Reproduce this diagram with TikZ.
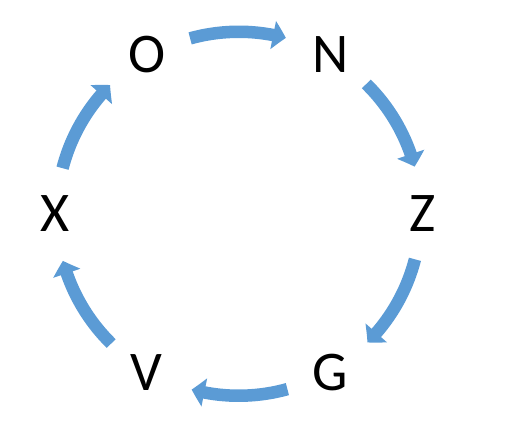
\documentclass[tikz,border=0pt]{standalone}
\usepackage{fontspec}
\setmainfont{Carlito}
\usetikzlibrary{arrows.meta,bending}
\definecolor{arrowblue}{RGB}{91,155,213}
\tikzset{
  letter/.style={font=\fontsize{56}{60}\selectfont, text=black, inner sep=0pt, anchor=center},
  cyclearrow/.style={draw=arrowblue, line width=12.5pt, line cap=butt,
    -{Triangle[width=28pt,length=13pt,bend]}}
}
\begin{document}
\begin{tikzpicture}[x=1pt,y=1pt]
\useasboundingbox (0,0) rectangle (521,431);
\begin{scope}[shift={(238.75,217.25)}]
  \node[letter] (O) at (120:183.75) {O};
  \node[letter] (N) at (60:183.75) {N};
  \node[letter] (Z) at (0:183.75) {Z};
  \node[letter] (G) at (-60:183.75) {G};
  \node[letter] (V) at (-120:183.75) {V};
  \node[letter] (X) at (180:183.75) {X};
  \foreach \t/\nm in {90/ON, 30/NZ, -30/ZG, -90/GV, -150/VX, 150/XO} {
    \coordinate (s\nm) at (\t+15.5:182);
    \draw[cyclearrow] (s\nm) arc[start angle=\t+15.5, end angle=\t-15, radius=182];
  }
\end{scope}
\end{tikzpicture}
\end{document}
